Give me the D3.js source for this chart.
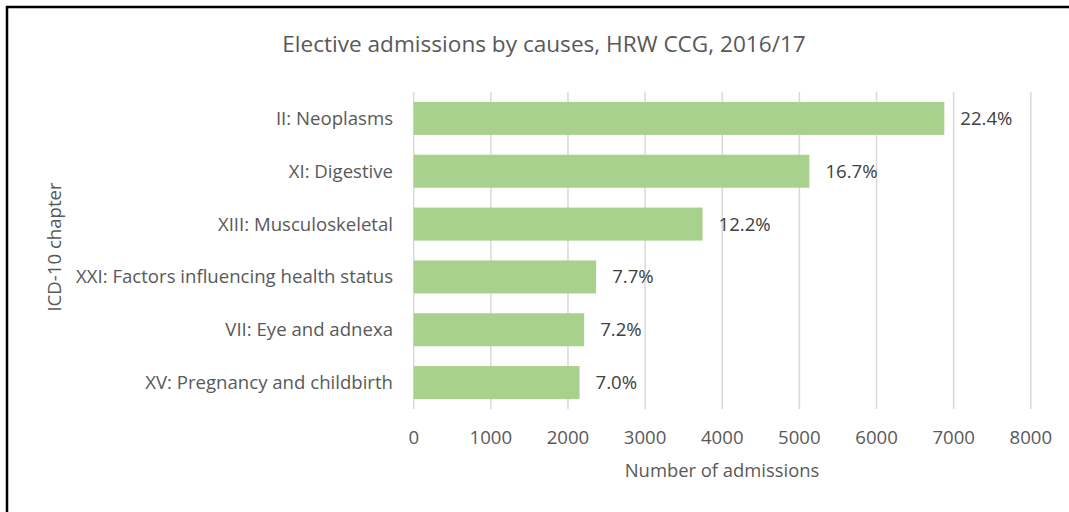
<!DOCTYPE html>
<html><head><meta charset="utf-8">
<script src="https://cdn.jsdelivr.net/npm/d3@7"></script>
<style>body{margin:0;background:#fff}svg{display:block}</style>
</head><body>
<svg id="chart" width="1069" height="512"></svg>
<script>
const categories = ["II: Neoplasms","XI: Digestive","XIII: Musculoskeletal","XXI: Factors influencing health status","VII: Eye and adnexa","XV: Pregnancy and childbirth"];
const admissions = [6879, 5130, 3745, 2365, 2210, 2150];
const shares = ["22.4%","16.7%","12.2%","7.7%","7.2%","7.0%"];
const xTicks = [0,1000,2000,3000,4000,5000,6000,7000,8000];
const title = "Elective admissions by causes, HRW CCG, 2016/17";
const xTitle = "Number of admissions";
const yTitle = "ICD-10 chapter";

(function(){
const svg = d3.select("#chart");
const font = "'Open Sans', sans-serif";
const grey = "#595959";

// frame
svg.append("rect").attr("x",7).attr("y",7).attr("width",1200).attr("height",600)
  .attr("fill","none").attr("stroke","#000").attr("stroke-width",2.5);

const pLeft = 413.7, pRight = 1030.8, pTop = 92, pBottom = 409;
const x = d3.scaleLinear().domain([0,8000]).range([pLeft,pRight]);
const y = d3.scaleBand().domain(categories).range([pTop,pBottom]).paddingInner(0.375).paddingOuter(0.1875);

// gridlines
svg.append("g").selectAll("line").data(xTicks).join("line")
  .attr("x1",d=>x(d)).attr("x2",d=>x(d)).attr("y1",pTop).attr("y2",pBottom)
  .attr("stroke","#d9d9d9").attr("stroke-width",1.5);

// bars
svg.append("g").selectAll("rect").data(categories).join("rect")
  .attr("x",x(0)).attr("y",d=>y(d)).attr("width",(d,i)=>x(admissions[i])-x(0))
  .attr("height",y.bandwidth()).attr("fill","#a9d18e");

// data labels
svg.append("g").selectAll("text").data(categories).join("text")
  .attr("x",(d,i)=>x(admissions[i])+16).attr("y",d=>y(d)+y.bandwidth()/2)
  .attr("dy","0.35em").attr("font-family",font).attr("font-size",18.6).attr("fill","#404040")
  .text((d,i)=>shares[i]);

// category labels
svg.append("g").selectAll("text").data(categories).join("text")
  .attr("x",393).attr("y",d=>y(d)+y.bandwidth()/2).attr("dy","0.35em")
  .attr("text-anchor","end").attr("font-family",font).attr("font-size",18.6).attr("fill",grey)
  .text(d=>d);

// x tick labels
svg.append("g").selectAll("text").data(xTicks).join("text")
  .attr("x",d=>x(d)).attr("y",444).attr("text-anchor","middle")
  .attr("font-family",font).attr("font-size",18.6).attr("fill",grey).text(d=>d);

// titles
svg.append("text").attr("x",544).attr("y",52).attr("text-anchor","middle")
  .attr("font-family",font).attr("font-size",22.6).attr("fill",grey).text(title);
svg.append("text").attr("x",722).attr("y",477).attr("text-anchor","middle")
  .attr("font-family",font).attr("font-size",18.4).attr("fill",grey).text(xTitle);
svg.append("text").attr("transform","translate(61,247) rotate(-90)").attr("text-anchor","middle")
  .attr("font-family",font).attr("font-size",18.6).attr("fill",grey).text(yTitle);
})();
</script>
</body></html>
